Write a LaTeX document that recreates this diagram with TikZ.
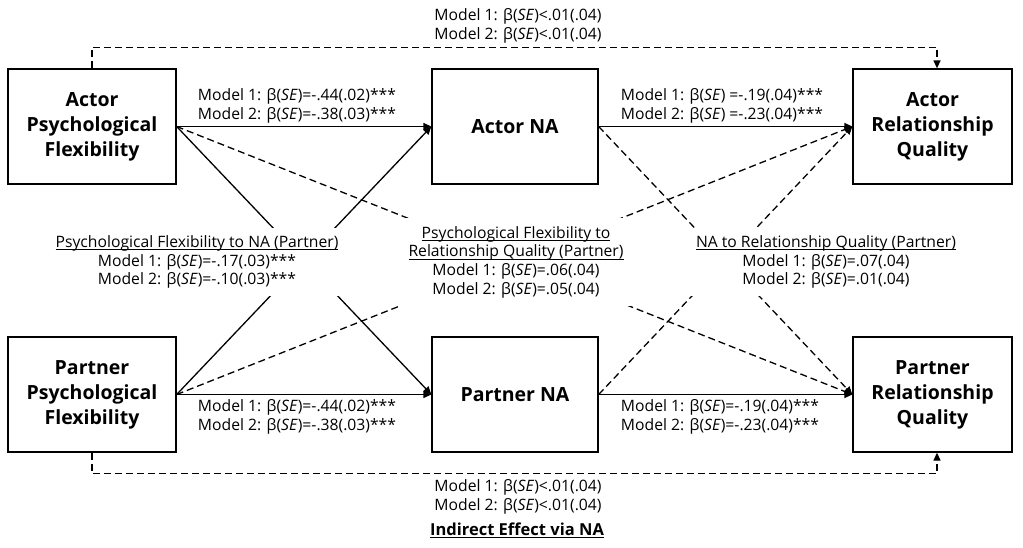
\documentclass[tikz,border=0pt]{standalone}
\usepackage{fontspec}
\setmainfont{Open Sans}
\usetikzlibrary{arrows.meta}
\newcommand{\myul}[1]{{\setbox0\hbox{#1}\rlap{\rule[-2.6pt]{\wd0}{0.8pt}}\box0}}
\begin{document}
\begin{tikzpicture}[x=1pt,y=-1pt,
  box/.style={draw,line width=1.3pt,minimum width=168pt,minimum height=115pt,align=center,font=\fontsize{19.5}{25}\selectfont\bfseries,inner sep=0pt},
  conn/.style={line width=1.3pt,-{Triangle[length=8pt,width=7pt]}},
  dconn/.style={conn,dash pattern=on 7pt off 4pt},
  lbl/.style={font=\fontsize{15.7}{18.7}\selectfont,align=center,inner sep=0pt},
  cover/.style={lbl,fill=white,inner sep=7pt}]
\useasboundingbox (0,0) rectangle (1023,547);
\node[box] (apf) at (92,126.5) {Actor\\Psychological\\Flexibility};
\node[box,minimum width=166pt] (ana) at (515,126.5) {Actor NA};
\node[box,minimum width=159pt] (arq) at (932.5,126.5) {Actor\\Relationship\\Quality};
\node[box] (ppf) at (92,394.5) {Partner\\Psychological\\Flexibility};
\node[box,minimum width=166pt] (pna) at (515,394.5) {Partner NA};
\node[box,minimum width=159pt] (prq) at (932.5,394.5) {Partner\\Relationship\\Quality};
\draw[conn] (apf.east) -- (ana.west);
\draw[conn] (ana.east) -- (arq.west);
\draw[conn] (ppf.east) -- (pna.west);
\draw[conn] (pna.east) -- (prq.west);
\draw[conn] (apf.east) -- (pna.west);
\draw[conn] (ppf.east) -- (ana.west);
\draw[dconn] (apf.east) -- (prq.west);
\draw[dconn] (ppf.east) -- (arq.west);
\draw[dconn] (ana.east) -- (prq.west);
\draw[dconn] (pna.east) -- (arq.west);
\draw[dconn] (apf.north) -- ++(0,-21) -| ([xshift=4.5pt]arq.north);
\draw[dconn] (ppf.south) -- ++(0,21) -| ([xshift=4.5pt]prq.south);
\node[lbl] (la1) at (297,106) {Model 1: β(\textit{SE})=-.44(.02)***\\Model 2: β(\textit{SE})=-.38(.03)***};
\node[lbl] (la2) at (722,106) {Model 1: β(\textit{SE}) =-.19(.04)***\\Model 2: β(\textit{SE}) =-.23(.04)***};
\node[lbl] (lp1) at (297,417) {Model 1: β(\textit{SE})=-.44(.02)***\\Model 2: β(\textit{SE})=-.38(.03)***};
\node[lbl] (lp2) at (720,417) {Model 1: β(\textit{SE})=-.19(.04)***\\Model 2: β(\textit{SE})=-.23(.04)***};
\node[lbl] (ltop) at (518,26) {Model 1: β(\textit{SE})<.01(.04)\\Model 2: β(\textit{SE})<.01(.04)};
\node[lbl] (lbot) at (518,497) {Model 1: β(\textit{SE})<.01(.04)\\Model 2: β(\textit{SE})<.01(.04)};
\node[lbl,font=\fontsize{16.5}{18.7}\selectfont\bfseries] (ind) at (517,530) {\myul{Indirect Effect via NA}};
\node[cover] (cl) at (197,262) {\myul{Psychological Flexibility to NA (Partner)}\\Model 1: β(\textit{SE})=-.17(.03)***\\Model 2: β(\textit{SE})=-.10(.03)***};
\node[cover,inner sep=8pt] (cm) at (516,262) {\myul{Psychological Flexibility to}\\\myul{Relationship Quality (Partner)}\\Model 1: β(\textit{SE})=.06(.04)\\Model 2: β(\textit{SE})=.05(.04)};
\node[cover] (cr) at (826,262) {\myul{NA to Relationship Quality (Partner)}\\Model 1: β(\textit{SE})=.07(.04)\\Model 2: β(\textit{SE})=.01(.04)};
\end{tikzpicture}
\end{document}
